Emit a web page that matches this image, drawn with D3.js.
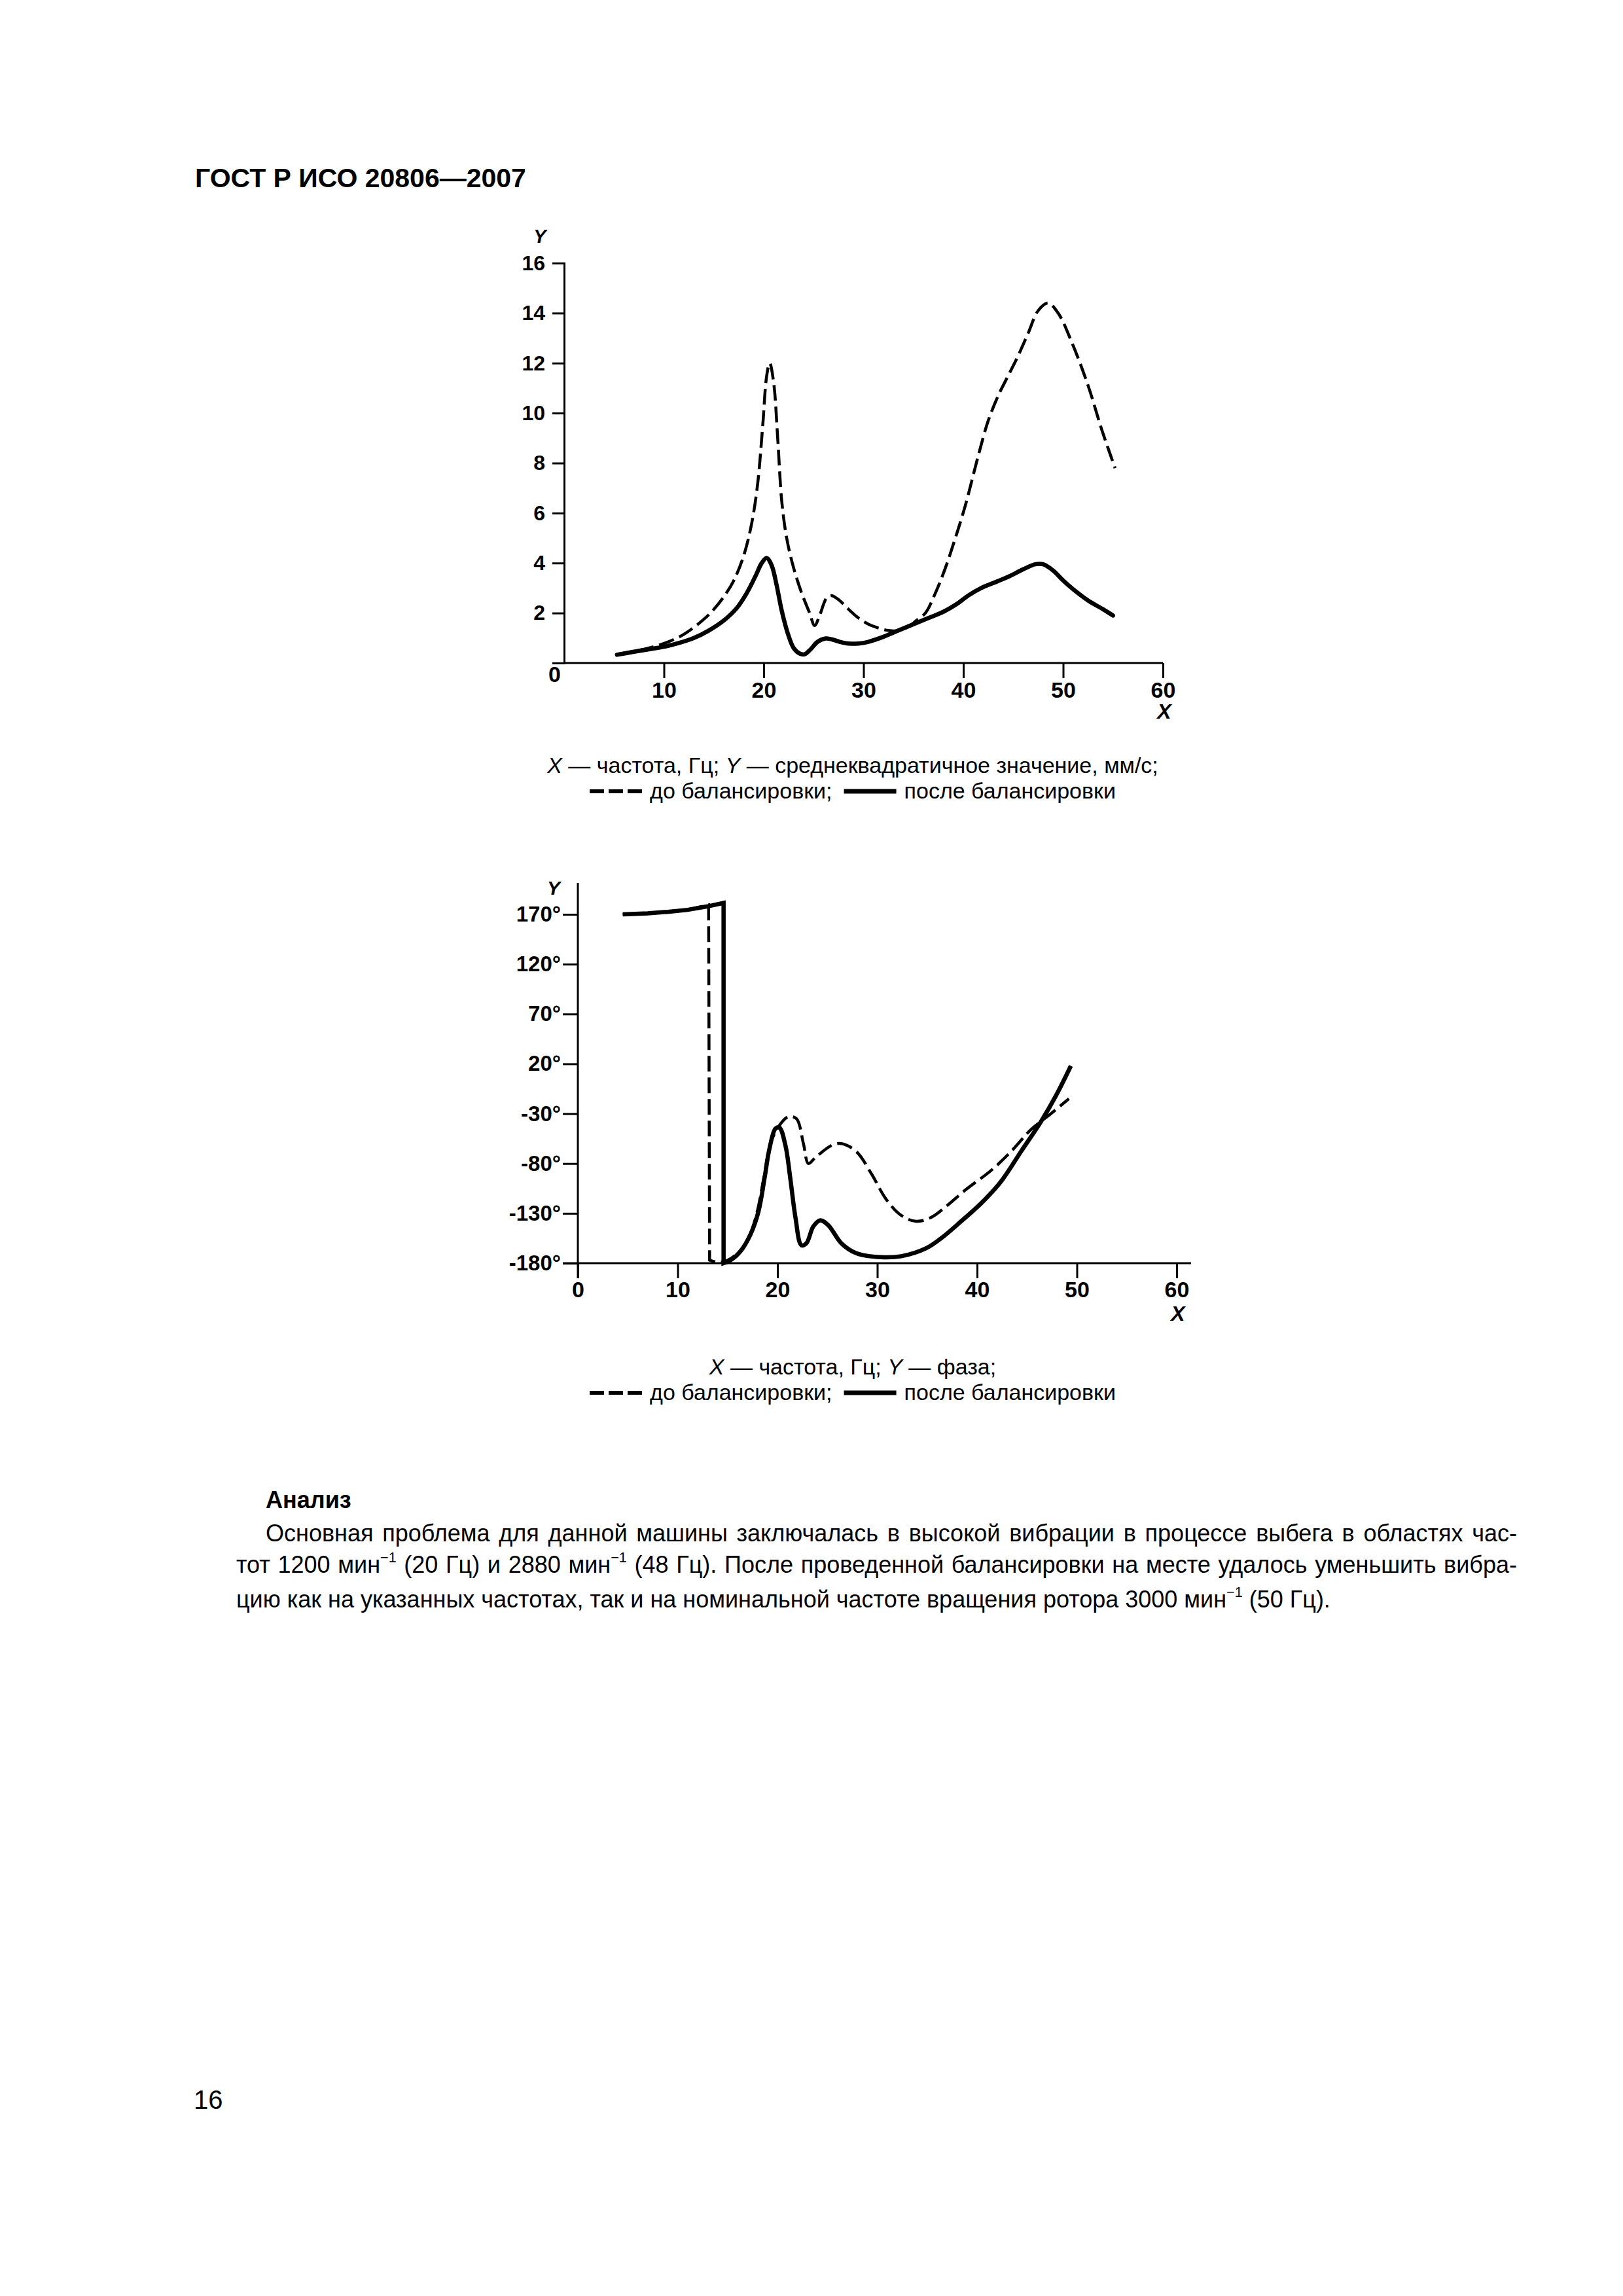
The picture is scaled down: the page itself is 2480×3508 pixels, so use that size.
<!DOCTYPE html>
<html>
<head>
<meta charset="utf-8">
<script src="https://cdn.jsdelivr.net/npm/d3@7"></script>
<style>
  body { margin: 0; background: #fff; }
  #page { position: relative; width: 2480px; height: 3508px; background: #fff; overflow: hidden; }
  svg { position: absolute; left: 0; top: 0; }
  .para { position: absolute; left: 361px; width: 1957px; font-family: "Liberation Sans", Arial, sans-serif;
          font-size: 36px; line-height: 48px; color: #000; }
  .para div { white-space: nowrap; text-align: justify; text-align-last: justify; }
  .para div.last { text-align-last: left; }
  .para div.first { text-indent: 45px; }
  sup { font-size: 0.6em; vertical-align: 0; position: relative; top: -0.75em; }
</style>
</head>
<body>
<div id="page"></div>
<script>
// ---- data ----
// chart 1: RMS velocity, mm/s, against frequency, Hz
var rmsBefore = [[5.3,0.35],[8,0.55],[10,0.78],[12,1.15],[14,1.75],[15,2.15],[16,2.65],[17,3.3],[18,4.3],
  [18.8,5.6],[19.4,7.2],[19.9,9.5],[20.3,11.5],[20.6,12.0],[21.0,11.2],[21.4,9.0],[21.8,6.5],[22.3,5.0],
  [23,3.8],[23.8,2.8],[24.6,2.0],[25.1,1.5],[25.6,1.9],[26.3,2.6],[26.8,2.7],[27.6,2.5],[28.5,2.15],
  [29.5,1.8],[30.5,1.55],[31.5,1.4],[32.5,1.3],[33.5,1.3],[34.5,1.45],[35.3,1.7],[36.2,2.0],[37.2,2.8],
  [38.2,3.8],[39.2,5.0],[40.2,6.3],[41.5,8.3],[42.5,9.7],[43.5,10.7],[44.5,11.5],[45.5,12.3],[46.5,13.2],
  [47.5,14.1],[48.5,14.4],[49.5,14.0],[50.9,12.8],[52.5,11.1],[53.9,9.3],[55.2,7.8]];
var rmsAfter = [[5.3,0.33],[7,0.45],[8.5,0.55],[10,0.65],[11.5,0.8],[13,1.0],[14.5,1.3],[16,1.7],[17.3,2.2],
  [18.3,2.8],[19.2,3.5],[19.8,4.0],[20.3,4.2],[20.8,3.9],[21.3,3.1],[21.8,2.1],[22.4,1.2],[23,0.6],
  [23.6,0.38],[24.1,0.35],[24.7,0.55],[25.4,0.85],[26.2,0.98],[26.8,0.95],[27.6,0.85],[28.5,0.78],
  [29.5,0.78],[30.5,0.85],[32,1.05],[33.5,1.3],[35,1.55],[36.5,1.8],[38,2.05],[39.3,2.35],[40.5,2.7],
  [41.8,3.0],[43,3.2],[44.5,3.45],[46,3.75],[47.2,3.95],[48,3.95],[49,3.7],[50,3.3],[51,2.95],
  [52.5,2.5],[54,2.15],[55,1.9]];
var rmsYTicks = [2, 4, 6, 8, 10, 12, 14, 16];
var freqTicks1 = [10, 20, 30, 40, 50, 60];

// chart 2: phase, degrees (each series jumps from the top to the bottom of the scale)
var phaseBeforeTop = [[4.5,170],[7,171],[9,172.5],[11,174.5],[13.1,179.5]];
var phaseBeforeBottom = [[13.2,-177],[14,-179],[15,-177],[16.3,-167],[17.3,-150],[18,-127],[18.6,-96],
  [19.3,-60],[20.1,-43],[21.1,-33],[21.9,-35],[22.6,-60],[23.1,-80],[23.8,-74],[25.4,-62],[26.4,-60],
  [27.9,-68],[29.4,-90],[30.9,-116],[32.4,-132],[33.9,-138],[35.4,-134],[36.9,-123],[38.9,-106],
  [41.4,-87],[43.4,-68],[45.4,-46],[47.4,-30],[49.2,-15]];
var phaseAfterTop = [[4.5,170],[7,171],[9,172.5],[11,174.5],[13,178],[14.6,181.5]];
var phaseAfterBottom = [[14.6,-180],[15.3,-177],[16.3,-168],[17.3,-151],[18.1,-128],[18.7,-95],
  [19.2,-65],[19.8,-45],[20.2,-44],[20.8,-62],[21.3,-96],[21.8,-134],[22.4,-162],[22.9,-160],
  [23.6,-143],[24.3,-137],[25.1,-142],[26.4,-160],[27.9,-170],[30.4,-174],[32.4,-173],[34.9,-165],
  [36.4,-155],[38.4,-138],[40.4,-120],[42.4,-98],[44.4,-68],[46.4,-38],[47.9,-12],[49.4,18]];
var phaseYTicks = [-180, -130, -80, -30, 20, 70, 120, 170];
var freqTicks2 = [0, 10, 20, 30, 40, 50, 60];

var FONT = '"Liberation Sans", Arial, sans-serif';
var DASH = "24,9";

var svg = d3.select("#page").append("svg")
  .attr("width", 2480)
  .attr("height", 3508)
  .style("font-family", FONT);

// page header and number
svg.append("text").attr("x", 298).attr("y", 286)
  .attr("font-size", 41).attr("font-weight", "bold")
  .text("ГОСТ Р ИСО 20806—2007");
svg.append("text").attr("x", 296).attr("y", 3222)
  .attr("font-size", 40)
  .text("16");

function styleAxis(g, size) {
  g.attr("font-family", FONT).attr("font-size", size).attr("font-weight", "bold");
  g.selectAll("line, path").attr("stroke", "#000").attr("stroke-width", 3);
  g.selectAll("text").attr("fill", "#000");
}

// two-line caption with a dashed and a solid sample
function caption(line1, y1, y2) {
  svg.append("text").attr("x", 1303).attr("y", y1)
    .attr("font-size", 34).attr("text-anchor", "middle")
    .html(line1);
  var g = svg.append("g");
  var t1 = g.append("text").attr("y", y2).attr("font-size", 34).text("до балансировки;");
  var t2 = g.append("text").attr("y", y2).attr("font-size", 34).text("после балансировки");
  var w1 = t1.node().getComputedTextLength(), w2 = t2.node().getComputedTextLength();
  var total = 80 + 12 + w1 + 18 + 80 + 12 + w2;
  var x = 1303 - total / 2;
  g.append("line").attr("x1", x).attr("x2", x + 80).attr("y1", y2 - 11).attr("y2", y2 - 11)
    .attr("stroke", "#000").attr("stroke-width", 6).attr("stroke-dasharray", "22,7");
  t1.attr("x", x + 92);
  var xs = x + 92 + w1 + 18;
  g.append("line").attr("x1", xs).attr("x2", xs + 80).attr("y1", y2 - 11).attr("y2", y2 - 11)
    .attr("stroke", "#000").attr("stroke-width", 7);
  t2.attr("x", xs + 92);
}

// ---------- chart 1 ----------
var x1 = d3.scaleLinear().domain([0, 60]).range([862, 1777]);
var y1 = d3.scaleLinear().domain([0, 16]).range([1013, 402]);

var xAxis1 = svg.append("g")
  .attr("transform", "translate(0,1013)")
  .call(d3.axisBottom(x1).tickValues(freqTicks1).tickSizeOuter(0).tickSize(23).tickPadding(6));
styleAxis(xAxis1, 34);
xAxis1.select(".domain").attr("d", "M" + x1(0) + ",0H" + x1(60));

var yAxis1 = svg.append("g")
  .attr("transform", "translate(862,0)")
  .call(d3.axisLeft(y1).tickValues(rmsYTicks).tickSizeOuter(0).tickSize(18).tickPadding(11));
styleAxis(yAxis1, 32);

svg.append("text").attr("x", 857).attr("y", 1042).attr("text-anchor", "end")
  .attr("font-size", 34).attr("font-weight", "bold").text("0");
svg.append("text").attr("x", 825).attr("y", 371).attr("text-anchor", "middle")
  .attr("font-size", 29).attr("font-weight", "bold").attr("font-style", "italic").text("Y");
svg.append("text").attr("x", 1779).attr("y", 1098).attr("text-anchor", "middle")
  .attr("font-size", 32).attr("font-weight", "bold").attr("font-style", "italic").text("X");

var line1 = d3.line()
  .x(d => x1(d[0]))
  .y(d => y1(d[1]))
  .curve(d3.curveCatmullRom.alpha(0.5));

svg.append("path").datum(rmsBefore)
  .attr("d", line1).attr("fill", "none").attr("stroke", "#000")
  .attr("stroke-width", 4.5).attr("stroke-dasharray", DASH);
svg.append("path").datum(rmsAfter)
  .attr("d", line1).attr("fill", "none").attr("stroke", "#000")
  .attr("stroke-width", 6.5).attr("stroke-linejoin", "round").attr("stroke-linecap", "round");

caption('<tspan font-style="italic">X</tspan> — частота, Гц; <tspan font-style="italic">Y</tspan> — среднеквадратичное значение, мм/с;', 1181, 1220);

// ---------- chart 2 ----------
var x2 = d3.scaleLinear().domain([0, 60]).range([883, 1798]);
var y2 = d3.scaleLinear().domain([-180, 170]).range([1930, 1397]);

var xAxis2 = svg.append("g")
  .attr("transform", "translate(0,1930)")
  .call(d3.axisBottom(x2).tickValues(freqTicks2).tickSizeOuter(0).tickSize(23).tickPadding(5));
styleAxis(xAxis2, 34);
xAxis2.select(".domain").attr("d", "M" + (x2(0) - 23) + ",0H" + (x2(60) + 22));

var yAxis2 = svg.append("g")
  .attr("transform", "translate(883,0)")
  .call(d3.axisLeft(y2).tickValues(phaseYTicks).tickSizeOuter(0).tickSize(23).tickPadding(3)
    .tickFormat(d => d + "°"));
styleAxis(yAxis2, 33);
yAxis2.select(".domain").attr("d", "M0," + (y2(170) - 48) + "V" + (y2(-180) + 23));

svg.append("text").attr("x", 846).attr("y", 1367).attr("text-anchor", "middle")
  .attr("font-size", 30).attr("font-weight", "bold").attr("font-style", "italic").text("Y");
svg.append("text").attr("x", 1800).attr("y", 2018).attr("text-anchor", "middle")
  .attr("font-size", 32).attr("font-weight", "bold").attr("font-style", "italic").text("X");

var lineTop = d3.line().x(d => x2(d[0])).y(d => y2(d[1])).curve(d3.curveLinear);
var lineBottom = d3.line().x(d => x2(d[0])).y(d => y2(d[1])).curve(d3.curveCatmullRom.alpha(0.5));

// top run, the vertical drop, then the lower curve in one path
function phasePath(top, bottom) {
  return lineTop(top) + "L" + lineBottom(bottom).slice(1);
}

svg.append("path")
  .attr("d", phasePath(phaseBeforeTop, phaseBeforeBottom))
  .attr("fill", "none").attr("stroke", "#000")
  .attr("stroke-width", 4.5).attr("stroke-dasharray", DASH);
svg.append("path")
  .attr("d", phasePath(phaseAfterTop, phaseAfterBottom))
  .attr("fill", "none").attr("stroke", "#000")
  .attr("stroke-width", 6.5).attr("stroke-linejoin", "miter");

caption('<tspan font-style="italic">X</tspan> — частота, Гц; <tspan font-style="italic">Y</tspan> — фаза;', 2100, 2139);

// ---------- text block ----------
svg.append("text").attr("x", 406).attr("y", 2304)
  .attr("font-size", 36).attr("font-weight", "bold").text("Анализ");

d3.select("#page").append("div")
  .attr("class", "para")
  .style("top", "2319px")
  .html('<div class="first">Основная проблема для данной машины заключалась в высокой вибрации в процессе выбега в областях час-</div>' +
        '<div>тот 1200 мин<sup>−1</sup> (20 Гц) и 2880 мин<sup>−1</sup> (48 Гц). После проведенной балансировки на месте удалось уменьшить вибра-</div>' +
        '<div class="last">цию как на указанных частотах, так и на номинальной частоте вращения ротора 3000 мин<sup>−1</sup> (50 Гц).</div>');
</script>
</body>
</html>
